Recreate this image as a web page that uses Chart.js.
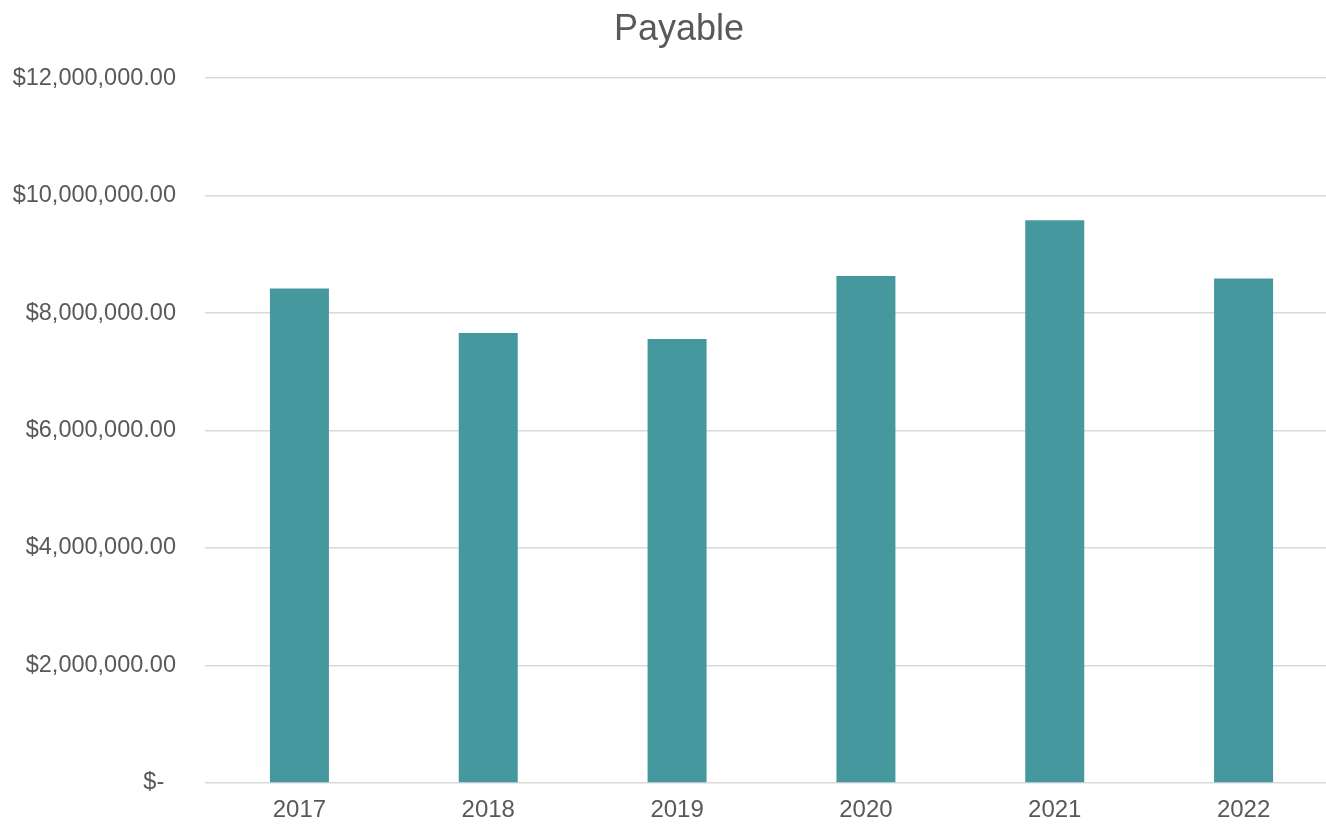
<!DOCTYPE html>
<html>
<head>
<meta charset="utf-8">
<script src="https://cdn.jsdelivr.net/npm/chart.js@4/dist/chart.umd.min.js"></script>
<style>
html,body{margin:0;padding:0;background:#fff;overflow:hidden;}
#wrap{width:1338px;height:826px;position:relative;}
</style>
</head>
<body>
<div id="wrap"><canvas id="c" width="1338" height="826"></canvas></div>
<script>
const categories = ["2017","2018","2019","2020","2021","2022"];
const payable = [8420000, 7660000, 7560000, 8630000, 9580000, 8590000];
const yTicks = [0, 2000000, 4000000, 6000000, 8000000, 10000000, 12000000];

const FONT = "'Liberation Sans', Arial, sans-serif";
const TEXT = "#595959";

function fmt(v){
  if (v === 0) return "$-\u2002";
  return "$" + v.toLocaleString("en-US",{minimumFractionDigits:2, maximumFractionDigits:2});
}

new Chart(document.getElementById("c"), {
  type: "bar",
  data: {
    labels: categories,
    datasets: [{
      label: "Payable",
      data: payable,
      backgroundColor: "#46989F",
      borderWidth: 0,
      categoryPercentage: 1,
      barPercentage: 0.3125
    }]
  },
  options: {
    responsive: false,
    animation: false,
    devicePixelRatio: 1,
    layout: { padding: { left: 0, right: 0, top: 0, bottom: 0 } },
    plugins: {
      legend: { display: false },
      tooltip: { enabled: false },
      title: {
        display: true,
        text: "  Payable",
        color: TEXT,
        font: { family: FONT, size: 36, weight: "normal" },
        padding: { top: 8, bottom: 27 }
      }
    },
    scales: {
      x: {
        afterFit: (s) => { s.height = 41; },
        grid: { display: false, drawTicks: false },
        border: { display: false },
        ticks: {
          color: TEXT,
          font: { family: FONT, size: 24 },
          padding: 13,
          maxRotation: 0
        }
      },
      y: {
        min: 0,
        max: 12000000,
        afterFit: (s) => { s.width = 205; },
        afterBuildTicks: (s) => { s.ticks = yTicks.map(v => ({ value: v })); },
        grid: { color: "#D9D9D9", lineWidth: 1.5, drawTicks: false },
        border: { display: false },
        ticks: {
          color: TEXT,
          font: { family: FONT, size: 23.5 },
          padding: 29,
          callback: (v) => fmt(v)
        }
      }
    }
  }
});
</script>
</body>
</html>
